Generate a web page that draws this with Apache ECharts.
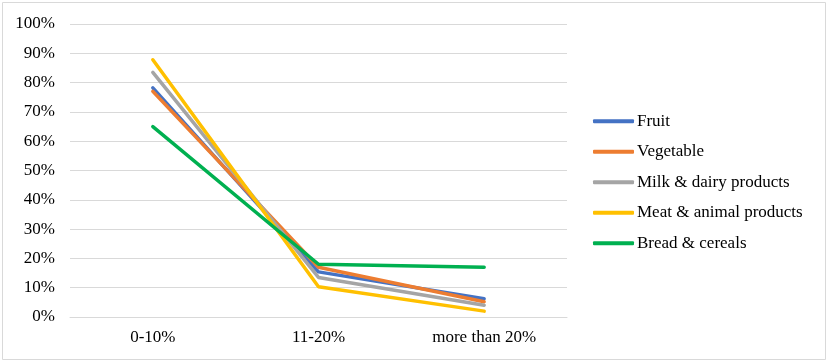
<!DOCTYPE html>
<html>
<head>
<meta charset="utf-8">
<script src="https://cdn.jsdelivr.net/npm/echarts@6/dist/echarts.min.js"></script>
<style>
  html, body { margin: 0; padding: 0; background: #fff; }
  #main { width: 829px; height: 363px; }
</style>
</head>
<body>
<div id="main"></div>
<script>
var categories = ['0-10%', '11-20%', 'more than 20%'];
var seriesNames = ['Fruit', 'Vegetable', 'Milk & dairy products', 'Meat & animal products', 'Bread & cereals'];
var fruit = [78.2, 15.4, 6.2];
var vegetable = [77.0, 17.0, 5.2];
var milk = [83.5, 13.5, 4.0];
var meat = [87.8, 10.3, 2.0];
var bread = [65.0, 18.0, 17.0];
var colors = ['#4472C4', '#ED7D31', '#A5A5A5', '#FFC000', '#00B050'];

var values = [fruit, vegetable, milk, meat, bread];
var serif = '"Liberation Serif", "Times New Roman", serif';

var series = []
for (var i = 0; i < seriesNames.length; i++) {
    series.push({
        name: seriesNames[i],
        type: 'line',
        data: values[i],
        symbol: 'none',
        lineStyle: { width: 3.5, color: colors[i], cap: 'round' },
        itemStyle: { color: colors[i] }
    });
}

var myChart = echarts.init(document.getElementById('main'));

var option = {
    animation: false,
    color: colors,
    graphic: [{
        type: 'rect',
        shape: { x: 2.5, y: 2.5, width: 823, height: 357 },
        style: { fill: 'none', stroke: '#D9D9D9', lineWidth: 1 }
    }],
    grid: { left: 70, right: 262, top: 24, bottom: 46 },
    legend: {
        orient: 'vertical',
        left: 588,
        top: 106,
        icon: 'roundRect',
        itemWidth: 41,
        itemHeight: 4,
        itemGap: 10,
        textStyle: { fontFamily: serif, fontSize: 17, color: '#000', lineHeight: 20.5, padding: [0, 0, 0, -2] },
        data: seriesNames
    },
    xAxis: {
        type: 'category',
        data: categories,
        boundaryGap: true,
        axisLine: { lineStyle: { color: '#D9D9D9', width: 1 } },
        axisTick: { show: false },
        axisLabel: { fontFamily: serif, fontSize: 17, color: '#000', margin: 12 }
    },
    yAxis: {
        type: 'value',
        min: 0,
        max: 100,
        interval: 10,
        axisLine: { show: false },
        axisTick: { show: false },
        splitLine: { lineStyle: { color: '#D9D9D9', width: 1 } },
        axisLabel: { fontFamily: serif, fontSize: 17, color: '#000', margin: 15, formatter: '{value}%' }
    },
    series: series
};

myChart.setOption(option);
</script>
</body>
</html>
